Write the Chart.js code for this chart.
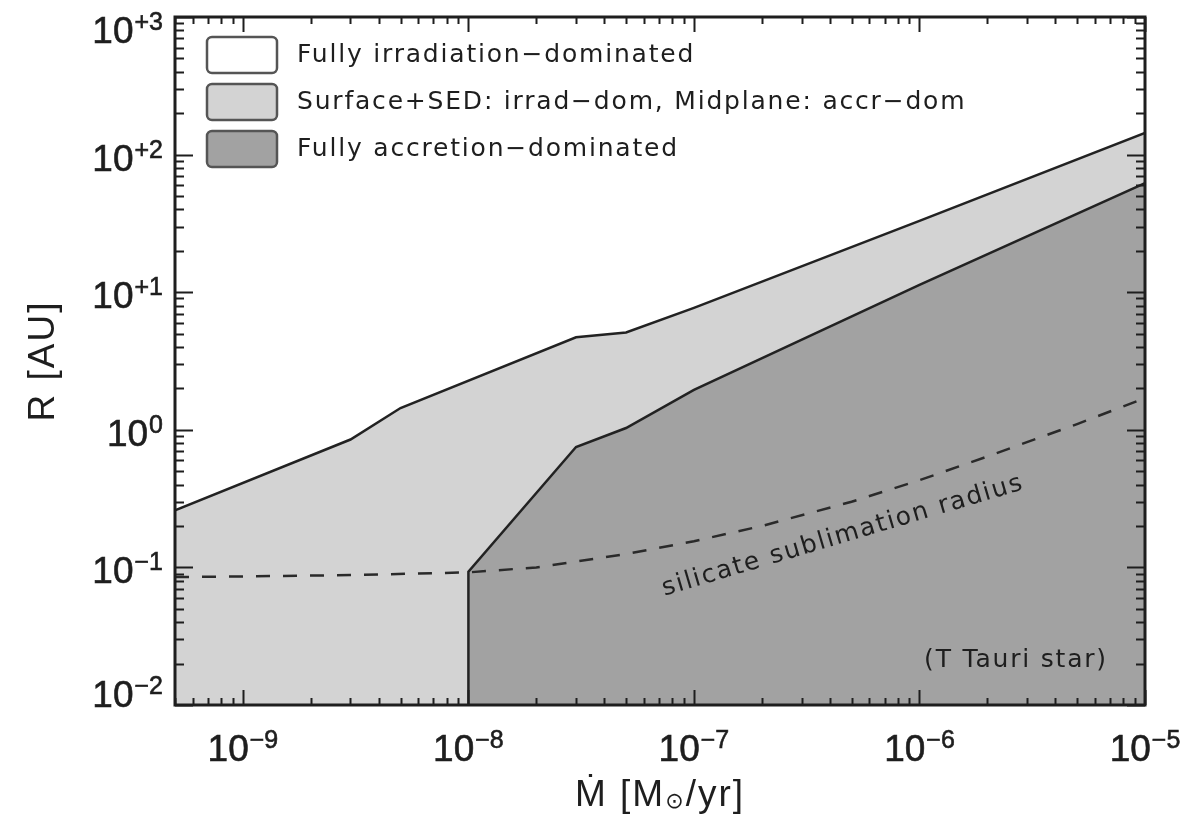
<!DOCTYPE html>
<html>
<head>
<meta charset="utf-8">
<script src="https://cdn.jsdelivr.net/npm/chart.js@4.4.1/dist/chart.umd.min.js"></script>
<style>
  html, body { margin: 0; padding: 0; background: #fff; }
</style>
</head>
<body>
<canvas id="chart" width="1190" height="815"></canvas>
<script>
// accretion rate range [Msun/yr] and radius range [AU]
const xMin = 5e-10, xMax = 1e-5;
const yMin = 1e-2, yMax = 1e3;

// boundary between fully irradiation-dominated and mixed region
const mdotUpper = [5e-10, 3e-9, 5e-9, 3e-8, 5e-8, 1e-7, 1e-6, 1e-5];
const rUpper    = [0.26, 0.85, 1.44, 4.7, 5.1, 7.7, 33, 144];

// boundary of the fully accretion-dominated region
const mdotLower = [1e-8, 1e-8, 3e-8, 5e-8, 1e-7, 1e-6, 1e-5];
const rLower    = [0.01, 0.093, 0.75, 1.03, 1.95, 11.3, 62];

// silicate sublimation radius (dashed)
const mdotSub = [5e-10, 1e-9, 3e-9, 1e-8, 2e-8, 5e-8, 1e-7, 2e-7, 5e-7, 1e-6, 2e-6, 5e-6, 1e-5];
const rSub    = [0.085, 0.086, 0.088, 0.092, 0.1, 0.125, 0.155, 0.2, 0.3, 0.43, 0.64, 1.1, 1.7];

const xTickExps = ['\u22129', '\u22128', '\u22127', '\u22126', '\u22125'];
const xTickVals = [1e-9, 1e-8, 1e-7, 1e-6, 1e-5];
const yTickExps = ['\u22122', '\u22121', '0', '+1', '+2', '+3'];
const yTickVals = [1e-2, 1e-1, 1e0, 1e1, 1e2, 1e3];

const legendLabels = [
  'Fully irradiation\u2212dominated',
  'Surface+SED: irrad\u2212dom, Midplane: accr\u2212dom',
  'Fully accretion\u2212dominated'
];
const legendColors = ['#ffffff', '#d3d3d3', '#a2a2a2'];

const toPts = (xs, ys) => xs.map((v, i) => ({ x: v, y: ys[i] }));

const tickFont = '"Liberation Sans", "DejaVu Sans", sans-serif';
const textFont = '"DejaVu Sans", sans-serif';

// draws "10" with a raised exponent
const drawPow = (ctx, exp, x, baseY, align) => {
  ctx.font = '37px ' + tickFont;
  const wb = ctx.measureText('10').width;
  ctx.font = '25px ' + tickFont;
  const ws = ctx.measureText(exp).width;
  const total = wb + ws + 1;
  let start = align === 'center' ? x - total / 2 : x - total;
  ctx.textAlign = 'left';
  ctx.textBaseline = 'alphabetic';
  ctx.font = '37px ' + tickFont;
  ctx.fillText('10', start, baseY);
  ctx.strokeText('10', start, baseY);
  ctx.font = '25px ' + tickFont;
  ctx.fillText(exp, start + wb + 1, baseY - 13);
  ctx.strokeText(exp, start + wb + 1, baseY - 13);
};

const framePlugin = {
  id: 'framePlugin',
  afterDraw(chart) {
    const { ctx, chartArea: a, scales: { x, y } } = chart;
    ctx.save();
    ctx.fillStyle = '#1e1e1e';
    ctx.strokeStyle = '#1e1e1e';

    // inward ticks on all four sides
    ctx.lineWidth = 2;
    ctx.beginPath();
    for (let d = -10; d <= -5; d++) {
      for (let k = 1; k <= 9; k++) {
        const v = k * Math.pow(10, d);
        if (v < xMin * 0.999 || v > xMax * 1.001) continue;
        const px = Math.round(x.getPixelForValue(v)) + 0.5;
        const len = k === 1 ? 15 : 7;
        ctx.moveTo(px, a.bottom); ctx.lineTo(px, a.bottom - len);
        ctx.moveTo(px, a.top); ctx.lineTo(px, a.top + len);
      }
    }
    for (let d = -2; d <= 3; d++) {
      for (let k = 1; k <= 9; k++) {
        const v = k * Math.pow(10, d);
        if (v < yMin * 0.999 || v > yMax * 1.001) continue;
        const py = Math.round(y.getPixelForValue(v)) + 0.5;
        const len = k === 1 ? 18 : 9;
        ctx.moveTo(a.left, py); ctx.lineTo(a.left + len, py);
        ctx.moveTo(a.right, py); ctx.lineTo(a.right - len, py);
      }
    }
    ctx.stroke();

    // frame
    ctx.lineWidth = 3;
    ctx.strokeRect(a.left, a.top, a.right - a.left, a.bottom - a.top);

    // tick labels (slightly emboldened)
    ctx.lineWidth = 0.6;
    xTickVals.forEach((v, i) => {
      drawPow(ctx, xTickExps[i], x.getPixelForValue(v), 761, 'center');
    });
    yTickVals.forEach((v, i) => {
      const py = y.getPixelForValue(v);
      const base = Math.min(Math.max(py + 16, a.top + 26), a.bottom + 2);
      drawPow(ctx, yTickExps[i], 163, base, 'right');
    });

    // axis titles
    ctx.textBaseline = 'alphabetic';
    ctx.textAlign = 'left';
    ctx.letterSpacing = '2px';
    ctx.font = '37px ' + tickFont;
    const p1 = '\u1E40 [M', p2 = '\u2299', p3 = '/yr]';
    const w1 = ctx.measureText(p1).width, w3 = ctx.measureText(p3).width;
    ctx.font = '22px "DejaVu Sans", sans-serif';
    const w2 = ctx.measureText(p2).width;
    let sx = 660 - (w1 + w2 + w3) / 2;
    ctx.font = '37px ' + tickFont;
    ctx.fillText(p1, sx, 806);
    ctx.font = '22px "DejaVu Sans", sans-serif';
    ctx.fillText(p2, sx + w1, 808);
    ctx.font = '37px ' + tickFont;
    ctx.fillText(p3, sx + w1 + w2, 806);

    ctx.save();
    ctx.translate(54, 361);
    ctx.rotate(-Math.PI / 2);
    ctx.textAlign = 'center';
    ctx.fillText('R [AU]', 0, 0);
    ctx.restore();

    // legend
    ctx.font = '25px ' + textFont;
    ctx.letterSpacing = '1.8px';
    legendLabels.forEach((lab, i) => {
      const by = 37 + i * 47;
      ctx.beginPath();
      ctx.roundRect(207, by, 70, 36, 5);
      ctx.fillStyle = legendColors[i];
      ctx.fill();
      ctx.lineWidth = 2.5;
      ctx.strokeStyle = '#555';
      ctx.stroke();
      ctx.fillStyle = '#1e1e1e';
      ctx.textAlign = 'left';
      ctx.textBaseline = 'middle';
      ctx.fillText(lab, 297, by + 18);
    });

    // annotations
    ctx.textAlign = 'center';
    ctx.textBaseline = 'middle';
    ctx.fillText('(T Tauri star)', 1016, 660);

    ctx.save();
    ctx.translate(843, 536);
    ctx.rotate(-16.5 * Math.PI / 180);
    ctx.fillText('silicate sublimation radius', 0, 0);
    ctx.restore();

    ctx.restore();
  }
};

new Chart(document.getElementById('chart'), {
  type: 'line',
  data: {
    datasets: [
      {
        label: 'silicate sublimation radius',
        data: toPts(mdotSub, rSub),
        borderColor: '#2a2a2a',
        borderWidth: 2.5,
        borderDash: [14, 13],
        fill: false,
        pointRadius: 0,
        order: 0
      },
      {
        label: legendLabels[2],
        data: toPts(mdotLower, rLower),
        borderColor: '#222',
        borderWidth: 2.5,
        backgroundColor: legendColors[2],
        fill: 'start',
        pointRadius: 0,
        order: 1
      },
      {
        label: legendLabels[1],
        data: toPts(mdotUpper, rUpper),
        borderColor: '#222',
        borderWidth: 2.5,
        backgroundColor: legendColors[1],
        fill: 'start',
        pointRadius: 0,
        order: 2
      }
    ]
  },
  options: {
    responsive: false,
    animation: false,
    layout: { padding: { left: 175, right: 45, top: 17, bottom: 110 } },
    scales: {
      x: { type: 'logarithmic', min: xMin, max: xMax, display: false },
      y: { type: 'logarithmic', min: yMin, max: yMax, display: false }
    },
    plugins: {
      legend: { display: false },
      tooltip: { enabled: false }
    }
  },
  plugins: [framePlugin]
});
</script>
</body>
</html>
